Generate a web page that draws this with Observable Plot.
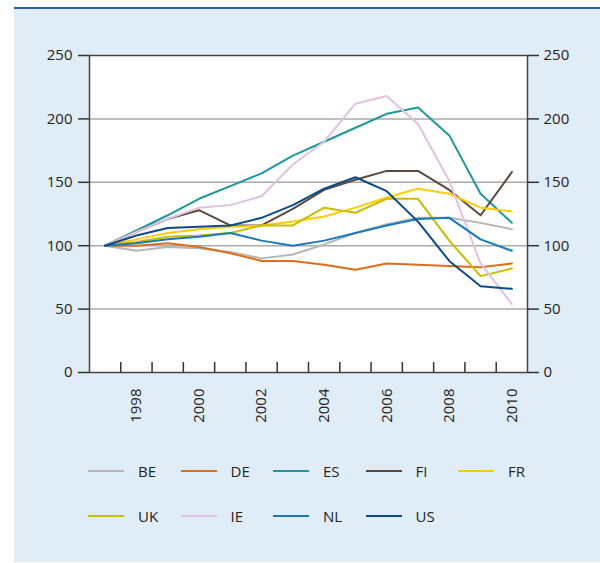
<!DOCTYPE html>
<html>
<head>
<meta charset="utf-8">
<script src="https://cdn.jsdelivr.net/npm/d3@7"></script>
<script src="https://cdn.jsdelivr.net/npm/@observablehq/plot@0.6"></script>
<style>
  html, body { margin: 0; padding: 0; background: #ffffff; }
  body { position: relative; width: 600px; height: 563px; overflow: hidden; font-family: "Open Sans", sans-serif; }
  #panel { position: absolute; left: 14px; top: 7px; width: 586px; height: 553px; background: #e1edf6; border-top: 2px solid #2a63a3; }
  #chart { position: absolute; left: 14px; top: 9px; }
  .leg { position: absolute; display: flex; align-items: center; height: 20px; font-size: 15px; color: #222; }
  .leg .sw { display: inline-block; width: 36px; height: 2px; margin-right: 14px; }
</style>
</head>
<body>
<div id="panel"></div>
<div id="chart"></div>
<div id="legend"></div>
<script>
const years = [1997, 1998, 1999, 2000, 2001, 2002, 2003, 2004, 2005, 2006, 2007, 2008, 2009, 2010];
const BE = [100, 96, 99, 98, 95, 90, 93, 101, 110, 117, 122, 122, 118, 113];
const DE = [100, 100, 102, 99, 94, 88, 88, 85, 81, 86, 85, 84, 83, 86];
const ES = [100, 112, 124, 137, 147, 157, 171, 182, 193, 204, 209, 187, 141, 118];
const FI = [100, 111, 121, 128, 116, 116, 129, 144, 152, 159, 159, 144, 124, 158];
const FR = [100, 105, 110, 113, 115, 116, 119, 123, 130, 138, 145, 141, 130, 127];
const UK = [100, 103, 107, 108, 110, 116, 116, 130, 126, 137, 137, 104, 76, 82];
const IE = [100, 111, 121, 130, 132, 139, 164, 182, 212, 218, 196, 151, 86, 54];
const NL = [100, 102, 105, 107, 110, 104, 100, 104, 110, 116, 121, 122, 105, 96];
const US = [100, 108, 114, 115, 116, 122, 132, 145, 154, 143, 119, 88, 68, 66];

const names = ["BE", "DE", "ES", "FI", "FR", "UK", "IE", "NL", "US"];
const seriesValues = [BE, DE, ES, FI, FR, UK, IE, NL, US];
const colors = ["#b5b5b5", "#dd6e1a", "#1a999f", "#5a4a3c", "#ffcb05", "#c8bd00", "#dfc1e0", "#1a78bf", "#0d4a8b"];

const yTicks = [0, 50, 100, 150, 200, 250];
const gridTicks = [50, 100, 150, 200];
const labelYears = [1998, 2000, 2002, 2004, 2006, 2008, 2010];
const boundaryTicks = years.slice(0, -1).map(y => y + 0.5);

const data = names.flatMap((n, k) => seriesValues[k].map((v, i) => ({country: n, year: years[i], value: v})));

const chart = Plot.plot({
  width: 586,
  height: 440,
  marginLeft: 75,
  marginRight: 73,
  marginTop: 46,
  marginBottom: 77,
  style: {background: "transparent", fontFamily: "Open Sans, sans-serif", fontSize: "15px", color: "#222", overflow: "visible"},
  x: {domain: [1996.5, 2010.5]},
  y: {domain: [0, 250]},
  color: {domain: names, range: colors},
  marks: [
    Plot.frame({fill: "white", stroke: null}),
    Plot.gridY(gridTicks, {stroke: "#aaaaaa", strokeOpacity: 1, strokeWidth: 1.5}),
    Plot.line(data, {x: "year", y: "value", z: "country", stroke: "country", strokeWidth: 2}),
    Plot.ruleX(boundaryTicks, {x: d => d, y1: 0, y2: 7.9, stroke: "#333", strokeWidth: 1.5}),
    Plot.axisX(labelYears, {tickSize: 0, tickPadding: 16, tickRotate: -90, tickFormat: d => String(d), label: null}),
    Plot.axisY(yTicks, {anchor: "left", tickSize: 11, tickPadding: 6, label: null, stroke: "#333", strokeWidth: 1.5}),
    Plot.axisY(yTicks, {anchor: "right", tickSize: 11, tickPadding: 5, label: null, stroke: "#333", strokeWidth: 1.5}),
    Plot.frame({stroke: "#444", strokeWidth: 1.5})
  ]
});
document.getElementById("chart").appendChild(chart);

const legend = document.getElementById("legend");
names.forEach((n, i) => {
  const row = i < 5 ? 0 : 1;
  const col = i < 5 ? i : i - 5;
  const item = document.createElement("div");
  item.className = "leg";
  item.style.left = (88 + col * 92.5) + "px";
  item.style.top = (row === 0 ? 461 : 506) + "px";
  const sw = document.createElement("span");
  sw.className = "sw";
  sw.style.background = colors[i];
  item.appendChild(sw);
  item.appendChild(document.createTextNode(n));
  legend.appendChild(item);
});
</script>
</body>
</html>
